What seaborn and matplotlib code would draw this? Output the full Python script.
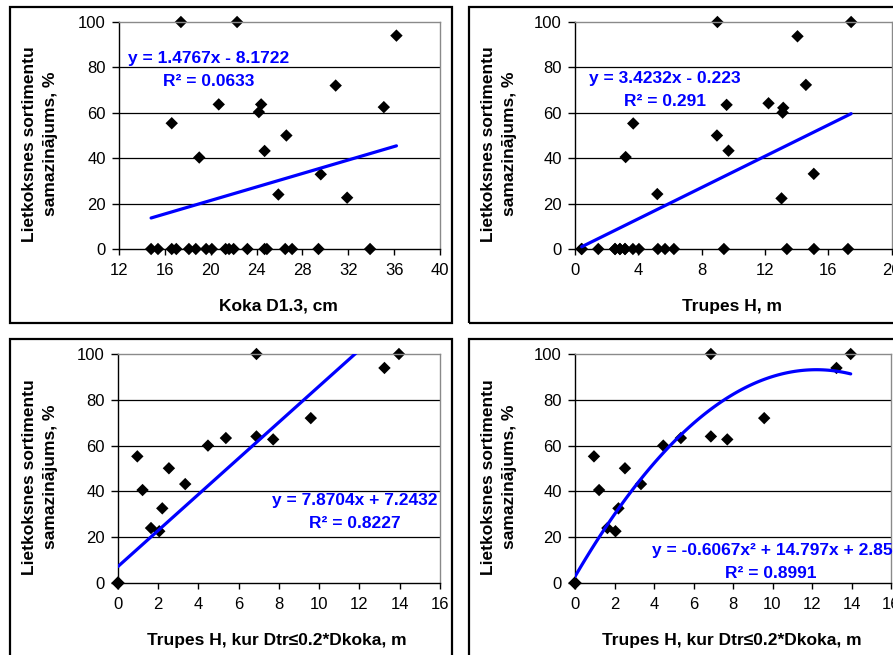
import matplotlib
matplotlib.use("Agg")
import matplotlib.pyplot as plt
import seaborn as sns
from matplotlib.patches import Rectangle

# ---------------- data ----------------
# Panel 1: tree diameter D1.3 (cm) vs reduction (%)
d13_cm = [17.4, 22.3, 36.2, 30.9, 20.7, 24.4, 24.2, 35.1, 16.6, 26.6, 19.0, 24.7,
          29.6, 25.9, 31.9,
          14.8, 15.4, 16.6, 17.0, 18.1, 18.7, 19.6, 20.1, 21.3, 21.6, 22.0, 23.2,
          24.7, 24.9, 26.5, 27.1, 29.4, 33.9]
reduction_p1 = [100, 100, 94, 72, 63.7, 63.7, 60.3, 62.5, 55.4, 50, 40.3, 43.2,
                32.9, 24, 22.6,
                0, 0, 0, 0, 0, 0, 0, 0, 0, 0, 0, 0, 0, 0, 0, 0, 0, 0]

# Panel 2: rot height H (m) vs reduction (%)
rot_h_m = [9.0, 17.45, 14.06, 14.59, 12.23, 9.58, 13.16, 13.12, 3.68, 8.97, 9.7,
           3.2, 15.09, 5.2, 13.05,
           0.42, 0.42, 1.47, 2.53, 2.53, 2.84, 2.84, 3.16, 3.16, 3.66, 4.04, 5.24,
           5.69, 6.25, 9.41, 13.39, 15.1, 17.25]
reduction_p2 = [100, 100, 93.7, 72.3, 64.2, 63.5, 62.2, 60.1, 55.3, 50, 43.3, 40.5,
                33.1, 24.2, 22.3,
                0, 0, 0, 0, 0, 0, 0, 0, 0, 0, 0, 0, 0, 0, 0, 0, 0, 0]

# Panels 3 & 4: rot height where Dtr <= 0.2*Dkoka (m) vs reduction (%)
rot_h02_m = [6.88, 13.96, 13.24, 9.58, 6.88, 5.36, 7.71, 4.47, 0.96, 2.53, 3.34,
             1.22, 2.2, 1.64, 2.05,
             0, 0, 0, 0, 0, 0, 0, 0, 0, 0, 0, 0, 0, 0, 0, 0, 0, 0]
reduction_p3 = [100, 100, 93.9, 72, 64, 63.3, 62.7, 60, 55.3, 50.1, 43.2, 40.6,
                32.6, 24, 22.6,
                0, 0, 0, 0, 0, 0, 0, 0, 0, 0, 0, 0, 0, 0, 0, 0, 0, 0]

y_label = "Lietkoksnes sortimentu\nsamazinājums, %"
x_labels = ["Koka D1.3, cm", "Trupes H, m",
            "Trupes H, kur Dtr≤0.2*Dkoka, m", "Trupes H, kur Dtr≤0.2*Dkoka, m"]
eq_texts = ["y = 1.4767x - 8.1722", "y = 3.4232x - 0.223",
            "y = 7.8704x + 7.2432", "y = -0.6067x² + 14.797x + 2.85"]
r2_texts = ["R² = 0.0633", "R² = 0.291", "R² = 0.8227", "R² = 0.8991"]
y_ticks = [0, 20, 40, 60, 80, 100]

# ---------------- style ----------------
sns.set_theme(style="white")
plt.rcParams['font.family'] = ['Liberation Sans', 'DejaVu Sans']

W, H = 893, 655
fig = plt.figure(figsize=(W / 100, H / 100), dpi=100)
fig.patch.set_facecolor("white")

BLUE = "#0000FF"


def fx(px):
    return px / W


def fy(py):
    return 1 - py / H


def make_ax(left, top, right, bottom):
    return fig.add_axes([fx(left), fy(bottom), (right - left) / W, (bottom - top) / H])


def style(ax, xlim, xticks):
    ax.set_xlim(*xlim)
    ax.set_ylim(0, 100)
    ax.set_xticks(xticks)
    ax.set_yticks(y_ticks)
    ax.set_xlabel("")
    ax.set_ylabel("")
    for y in [20, 40, 60, 80]:
        ax.axhline(y, color="black", lw=0.9, zorder=0.5)
    for s in ["left", "bottom"]:
        ax.spines[s].set_color("black")
        ax.spines[s].set_linewidth(1.0)
    for s in ["top", "right"]:
        ax.spines[s].set_color("#8a8a8a")
        ax.spines[s].set_linewidth(1.0)
    ax.tick_params(axis="both", direction="out", width=1, color="black",
                   labelsize=12, labelcolor="black")
    ax.tick_params(axis="x", length=4, pad=6, bottom=True)
    ax.tick_params(axis="y", length=5, pad=4.5, left=True)
    ax.set_facecolor("white")


def draw(ax, x, y, order):
    sns.regplot(x=x, y=y, ax=ax, scatter=False, ci=None, order=order, truncate=True,
                color=BLUE, line_kws=dict(lw=2.3, zorder=3))
    sns.scatterplot(x=x, y=y, ax=ax, marker="D", s=40, color="black",
                    edgecolor="none", zorder=2, clip_on=False, legend=False)


# panel frames (chart area borders)
frames = [(10, 7, 452, 323), (469, 7, 930, 323), (10, 339, 452, 662), (469, 339, 930, 662)]
for l, t, r, b in frames:
    fig.patches.append(Rectangle((fx(l), fy(b)), (r - l) / W, (b - t) / H,
                                 transform=fig.transFigure, fill=False,
                                 edgecolor="black", lw=1.6, zorder=0))

ax1 = make_ax(119, 22, 440, 249)
draw(ax1, d13_cm, reduction_p1, 1)
style(ax1, (12, 40), [12, 16, 20, 24, 28, 32, 36, 40])

ax2 = make_ax(575, 22, 891.5, 249)
draw(ax2, rot_h_m, reduction_p2, 1)
style(ax2, (0, 20), [0, 4, 8, 12, 16, 20])

ax3 = make_ax(118, 354, 440, 583)
draw(ax3, rot_h02_m, reduction_p3, 1)
style(ax3, (0, 16), [0, 2, 4, 6, 8, 10, 12, 14, 16])

ax4 = make_ax(575, 354, 891, 583)
draw(ax4, rot_h02_m, reduction_p3, 2)
style(ax4, (0, 16), [0, 2, 4, 6, 8, 10, 12, 14, 16])

lab_kw = dict(fontsize=12.5, fontweight="bold", color="black")

# y labels
for cx, cy in [(40, 144), (499, 144), (40, 477), (499, 477)]:
    fig.text(fx(cx), fy(cy), y_label, rotation=90, ha="center", va="center",
             multialignment="center", linespacing=1.45, **lab_kw)

# x labels
for (cx, cy), txt in zip([(278, 306), (732, 306), (277, 640), (732, 640)], x_labels):
    fig.text(fx(cx), fy(cy), txt, ha="center", va="center", **lab_kw)

eq_kw = dict(fontsize=12.5, fontweight="bold", color=BLUE, va="center")
fig.text(fx(209), fy(59), eq_texts[0], ha="center", **eq_kw)
fig.text(fx(209), fy(82), r2_texts[0], ha="center", **eq_kw)
fig.text(fx(665), fy(78), eq_texts[1], ha="center", **eq_kw)
fig.text(fx(665), fy(102), r2_texts[1], ha="center", **eq_kw)
fig.text(fx(355), fy(501), eq_texts[2], ha="center", **eq_kw)
fig.text(fx(355), fy(523), r2_texts[2], ha="center", **eq_kw)
fig.text(fx(652), fy(550), eq_texts[3], ha="left", **eq_kw)
fig.text(fx(771), fy(573), r2_texts[3], ha="center", **eq_kw)

fig.savefig("out.png", dpi=100, facecolor="white")
